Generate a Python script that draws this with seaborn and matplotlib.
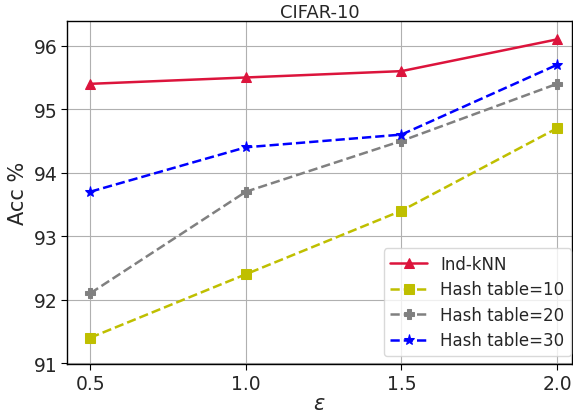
import matplotlib
matplotlib.use('Agg')
import matplotlib.pyplot as plt
import seaborn as sns
import pandas as pd

# data
eps = [0.5, 1.0, 1.5, 2.0]
ind_knn = [95.4, 95.5, 95.6, 96.1]
hash10 = [91.4, 92.4, 93.4, 94.7]
hash20 = [92.1, 93.7, 94.5, 95.4]
hash30 = [93.7, 94.4, 94.6, 95.7]

names = ['Ind-kNN', 'Hash table=10', 'Hash table=20', 'Hash table=30']
colors = ['crimson', 'y', 'gray', 'blue']
markers = ['^', 's', 'P', '*']
styles = ['-', '--', '--', '--']

df = pd.DataFrame({'eps': eps * 4,
                   'acc': ind_knn + hash10 + hash20 + hash30,
                   'method': sum([[n] * 4 for n in names], [])})

sns.set_style('whitegrid')
plt.rcParams['font.family'] = ['DejaVu Sans']

fig = plt.figure(figsize=(5.73, 4.14), dpi=100)
ax = fig.add_axes([67 / 573, 1 - 365 / 414, (572 - 67) / 573, (365 - 22) / 414])

for n, c, m, ls in zip(names, colors, markers, styles):
    sub = df[df['method'] == n]
    sns.lineplot(data=sub, x='eps', y='acc', ax=ax, color=c, marker=m,
                 linestyle=ls, linewidth=1.8, markersize=8 if m == '*' else 7,
                 markeredgecolor=c, label=n)

ax.set_xlim(0.425, 2.048)
ax.set_ylim(90.985, 96.39)
ax.set_xticks(eps)
ax.set_yticks([91, 92, 93, 94, 95, 96])
ax.tick_params(labelsize=13.5, length=4, pad=3, color='black', direction='out', bottom=True, left=True)
ax.grid(True, color='#b0b0b0', linewidth=0.8)
for s in ax.spines.values():
    s.set_color('black')
    s.set_linewidth(1.0)
ax.set_xlabel(r'$\epsilon$', fontsize=15, labelpad=0)
ax.set_ylabel('Acc %', fontsize=15)
ax.set_title('CIFAR-10', fontsize=13, pad=3)
ax.legend(loc='lower right', fontsize=12, frameon=True, edgecolor='#d0d0d0',
          framealpha=0.8, handlelength=2.2, labelspacing=0.45, borderaxespad=0,
          bbox_to_anchor=(571 / 573, 57 / 414), bbox_transform=fig.transFigure)

fig.savefig('out.png', dpi=100)
